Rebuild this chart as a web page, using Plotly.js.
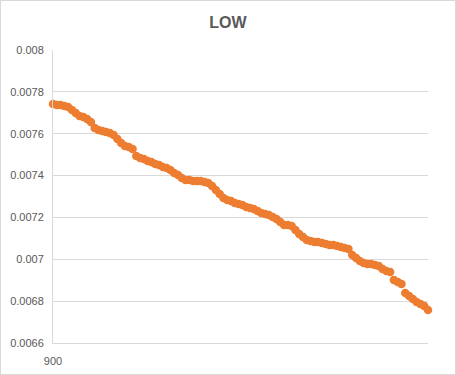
<!DOCTYPE html>
<html>
<head>
<meta charset="utf-8">
<script src="https://cdn.plot.ly/plotly-3.0.1.min.js"></script>
<style>
  html, body { margin: 0; padding: 0; background: #fff; }
  #wrap { position: relative; width: 456px; height: 375px; }
  #chart { width: 456px; height: 375px; }
  #frame { position: absolute; left: 0; top: 0; width: 454px; height: 373px; border: 1px solid #d9d9d9; pointer-events: none; }
</style>
</head>
<body>
<div id="wrap"><div id="chart"></div><div id="frame"></div></div>
<script>
const chartTitle = "LOW";
const xStart = 900;
const lowValues = [
  0.007742, 0.007737, 0.007737, 0.007732, 0.007728, 0.007713, 0.007699, 0.007685, 0.007680, 0.007670,
  0.007656, 0.007627, 0.007618, 0.007613, 0.007608, 0.007603, 0.007594, 0.007575, 0.007556, 0.007541,
  0.007537, 0.007527, 0.007494, 0.007484, 0.007479, 0.007470, 0.007465, 0.007455, 0.007451, 0.007441,
  0.007436, 0.007427, 0.007412, 0.007403, 0.007388, 0.007379, 0.007379, 0.007374, 0.007374, 0.007374,
  0.007369, 0.007365, 0.007350, 0.007331, 0.007312, 0.007293, 0.007283, 0.007279, 0.007269, 0.007264,
  0.007259, 0.007250, 0.007245, 0.007240, 0.007231, 0.007221, 0.007216, 0.007212, 0.007202, 0.007193,
  0.007178, 0.007164, 0.007164, 0.007159, 0.007140, 0.007121, 0.007107, 0.007092, 0.007087, 0.007083,
  0.007083, 0.007078, 0.007073, 0.007068, 0.007068, 0.007064, 0.007059, 0.007054, 0.007049, 0.007021,
  0.007006, 0.006992, 0.006982, 0.006978, 0.006978, 0.006973, 0.006968, 0.006954, 0.006944, 0.006939,
  0.006901, 0.006891, 0.006882, 0.006839, 0.006825, 0.006810, 0.006796, 0.006786, 0.006777, 0.006758
];
const xValues = lowValues.map((_, i) => xStart + i);
const yTickVals = [0.0066, 0.0068, 0.007, 0.0072, 0.0074, 0.0076, 0.0078, 0.008];
const yTickText = ["0.0066", "0.0068", "0.007", "0.0072", "0.0074", "0.0076", "0.0078", "0.008"];
const xTickVals = [900];
const xTickText = ["900"];

const trace = {
  x: xValues,
  y: lowValues,
  type: "scatter",
  mode: "markers",
  cliponaxis: false,
  marker: { color: "#ED7D31", size: 8.5, line: { width: 0 } },
  hoverinfo: "x+y"
};

const layout = {
  width: 456,
  height: 375,
  margin: { l: 53, r: 28, t: 50, b: 32 },
  paper_bgcolor: "#ffffff",
  plot_bgcolor: "#ffffff",
  showlegend: false,
  font: { family: "Liberation Sans, Arial, sans-serif", color: "#595959", size: 11 },
  title: {
    text: "<b>" + chartTitle + "</b>",
    font: { family: "Liberation Sans, Arial, sans-serif", size: 16, color: "#595959" },
    x: 0.5, xanchor: "center", y: 0.94, yanchor: "middle"
  },
  xaxis: {
    range: [xStart, xStart + lowValues.length - 1],
    tickmode: "array",
    tickvals: xTickVals,
    ticktext: xTickText,
    showgrid: false,
    zeroline: false,
    showline: true,
    linecolor: "#d9d9d9",
    linewidth: 1,
    ticks: "",
    ticklabelstandoff: 8,
    tickfont: { size: 11, color: "#595959" },
    fixedrange: true
  },
  yaxis: {
    range: [0.0066, 0.008],
    tickmode: "array",
    tickvals: yTickVals,
    ticktext: yTickText,
    showgrid: true,
    gridcolor: "#d9d9d9",
    gridwidth: 1,
    zeroline: false,
    showline: true,
    linecolor: "#d9d9d9",
    linewidth: 1,
    ticks: "",
    ticklabelstandoff: 6,
    tickfont: { size: 11, color: "#595959" },
    fixedrange: true
  }
};

Plotly.newPlot("chart", [trace], layout, { displayModeBar: false, staticPlot: true });
</script>
</body>
</html>
